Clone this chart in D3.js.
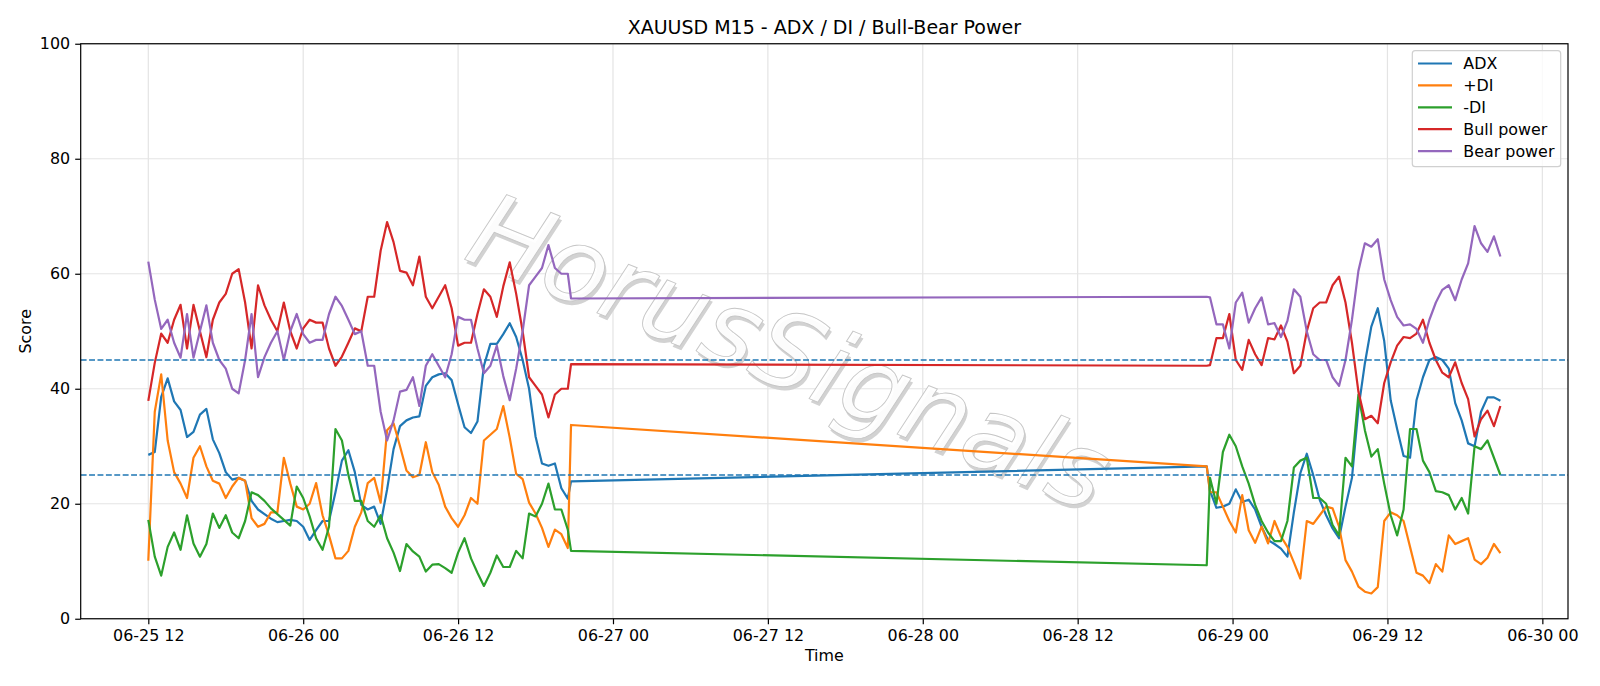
<!DOCTYPE html>
<html>
<head>
<meta charset="utf-8">
<script src="https://cdn.jsdelivr.net/npm/d3@7"></script>
<style>
  body { margin: 0; background: #fff; }
  svg { display: block; font-family: "DejaVu Sans", sans-serif; }
</style>
</head>
<body>
<svg id="chart" width="1600" height="686"></svg>
<script>
// bar times: 30 min samples of the M15 feed, plus the two odd bars around the weekend gap
const parse = d3.timeParse("%Y-%m-%d %H:%M");
const seg1Start = parse("2025-06-25 12:00");
const seg1Last = parse("2025-06-26 20:45");
const seg2First = parse("2025-06-28 22:00");
const seg2Start = parse("2025-06-28 22:15");

const times = [
    ...d3.range(66).map(i => d3.timeMinute.offset(seg1Start, 30 * i)),
    seg1Last,
    seg2First,
    ...d3.range(46).map(i => d3.timeMinute.offset(seg2Start, 30 * i))
];

// values, segment before the gap then after it
const adx1 = [28.5, 29, 38.6, 41.8, 37.8, 36.3, 31.6, 32.5, 35.5, 36.5,
    31.2, 28.8, 25.5, 24.2, 24.5, 24, 20.5, 19, 18.2, 17.4,
    16.8, 17, 17.2, 17, 16, 13.7, 15.4, 17, 17, 22,
    27.5, 29.3, 25.5, 19.8, 19, 19.5, 16.5, 22.5, 29.5, 33.5,
    34.5, 35, 35.2, 40.5, 42, 42.5, 42.7, 41.5, 37.3, 33.3,
    32.3, 34.3, 44, 47.8, 47.8, 49.5, 51.4, 49, 45, 40,
    31.7, 27, 26.6, 27, 22.7, 20.9, 23.9];
const adx2 = [26.5, 22.3, 19.3, 19.5, 20, 22.5, 20.3, 20.7, 19, 16,
    13.7, 13, 12.2, 10.8, 18.5, 25.3, 28.7, 25, 20.7, 18,
    15.7, 14, 19.5, 24.5, 36.5, 44.4, 50.8, 54, 48.3, 38,
    33, 28.3, 28, 38, 42, 45, 45.5, 45, 43.5, 37.5,
    34.5, 30.5, 30, 36, 38.5, 38.5, 37.9];

const plusDI1 = [10.1, 36, 42.5, 31, 25.5, 23.5, 21, 28, 30, 26.5,
    24, 23.5, 21, 23, 24.5, 24, 17.5, 16, 16.5, 18.5,
    18.5, 28, 23.5, 19.5, 19, 20, 23.6, 18, 14.5, 10.5,
    10.5, 11.8, 16, 18.5, 23.6, 24.5, 20.2, 32.8, 34, 30,
    25.8, 24.6, 25, 30.7, 25.5, 23.3, 19.5, 17.5, 16, 18,
    21, 20, 31, 32, 33, 37, 31.5, 25.2, 24.3, 20.2,
    18.3, 15.8, 12.5, 15.5, 14.7, 12.3, 33.7];
const plusDI2 = [26.5, 22, 22, 19.5, 17, 15, 21.5, 15.4, 13.2, 16,
    13.1, 17, 14.3, 12.5, 9.8, 7, 17, 16.5, 18, 19.5,
    19.2, 16, 10.2, 8.2, 5.6, 4.7, 4.4, 5.5, 17, 18.5,
    18, 17, 12.5, 8, 7.5, 6.2, 9.5, 8.2, 14.5, 13,
    13.5, 14, 10.3, 9.5, 10.6, 13, 11.4];

const minusDI1 = [17.2, 10.8, 7.5, 12.5, 15, 12, 18, 13.1, 10.8, 13,
    18.3, 15.8, 18, 15, 14, 17, 22, 21.5, 20.5, 19.2,
    18.2, 17.2, 16.2, 23, 21, 17.8, 14, 12, 16, 33,
    31, 25, 20.5, 20.5, 17, 16, 18, 14, 11.5, 8.3,
    13, 11.7, 10.8, 8.2, 9.4, 9.5, 8.8, 8, 11.5, 14,
    10.5, 8, 5.7, 8, 11, 9, 9, 11.8, 10.5, 18.3,
    17.8, 20, 23.5, 19, 19, 15.5, 11.8];
const minusDI2 = [9.3, 24.5, 20, 29, 32, 30, 26.5, 23.5, 19.8, 17,
    15, 13.5, 13.5, 17, 26.3, 27.5, 28, 21, 21, 20,
    16.3, 14.5, 28, 26.5, 39, 32.8, 28.2, 29.5, 23.5, 18,
    14.5, 19, 33, 33, 27.5, 25.5, 22.2, 22, 21.5, 19,
    21, 18.3, 30, 29.5, 31, 28, 25];

const bull1 = [37.9, 44.5, 49.6, 48, 52, 54.6, 47, 54.6, 50, 45.5,
    52, 55, 56.5, 60, 60.8, 55, 47, 58, 54.5, 52,
    50, 55, 50, 47, 50.5, 52, 51.5, 51.5, 47, 44,
    45.6, 48, 50.5, 50, 56, 56, 64, 69, 65.5, 60.5,
    60.2, 58, 63, 56, 54, 56, 58, 54, 47.5, 48,
    48, 53, 57.3, 56, 52.5, 57.8, 62, 56.5, 50, 42,
    40.5, 39, 35, 39, 40, 40, 44.3];
const bull2 = [44, 44.1, 48.8, 48.8, 53, 45, 43.3, 48.5, 46, 44.1,
    48.8, 48.6, 51, 48.2, 42.7, 44, 50, 54, 55, 55,
    58, 59.5, 55, 48, 39.5, 34.7, 35.3, 34, 41, 44.6,
    47.5, 49, 48.8, 49.6, 52, 48, 45, 42.8, 42, 44.6,
    41, 38.2, 31.7, 34.7, 36.2, 33.5, 37];

const bear1 = [62.1, 55.5, 50.4, 52, 48, 45.4, 53, 45.4, 50, 54.5,
    48, 45, 43.5, 40, 39.2, 45, 53, 42, 45.5, 48,
    50, 45, 50, 53, 49.5, 48, 48.5, 48.5, 53, 56,
    54.4, 52, 49.5, 50, 44, 44, 36, 31, 34.5, 39.5,
    39.8, 42, 37, 44, 46, 44, 42, 46, 52.5, 52,
    52, 47, 42.7, 44, 47.5, 42.2, 38, 43.5, 50, 58,
    59.5, 61, 65, 61, 60, 60, 55.7];
const bear2 = [56, 55.9, 51.2, 51.2, 47, 55, 56.7, 51.5, 54, 55.9,
    51.2, 51.4, 49, 51.8, 57.3, 56, 50, 46, 45, 45,
    42, 40.5, 45, 52, 60.5, 65.3, 64.7, 66, 59, 55.4,
    52.5, 51, 51.2, 50.4, 48, 52, 55, 57.2, 58, 55.4,
    59, 61.8, 68.3, 65.3, 63.8, 66.5, 63];

const seriesNames = ["ADX", "+DI", "-DI", "Bull power", "Bear power"];
const seriesColors = ["#1f77b4", "#ff7f0e", "#2ca02c", "#d62728", "#9467bd"];
const seriesValues = [
    adx1.concat(adx2),
    plusDI1.concat(plusDI2),
    minusDI1.concat(minusDI2),
    bull1.concat(bull2),
    bear1.concat(bear2)
];
const levels = [45, 25];
const yTicks = [0, 20, 40, 60, 80, 100];

const svg = d3.select("#chart");
const plotLeft = 80.7, plotRight = 1568, plotTop = 43.75, plotBottom = 618.75;

// matplotlib style 5% margin on the time axis
const t0 = times[0], t1 = times[times.length - 1];
const pad = (t1 - t0) * 0.05;
const x = d3.scaleTime()
    .domain([new Date(+t0 - pad), new Date(+t1 + pad)])
    .range([plotLeft, plotRight]);
const y = d3.scaleLinear().domain([0, 100]).range([plotBottom, plotTop]);

const xTicks = x.ticks(d3.timeHour.every(12));
const fmt = d3.timeFormat("%m-%d %H");

// grid
const grid = svg.append("g");
grid.selectAll(".gx").data(xTicks).enter().append("line")
    .attr("x1", d => x(d)).attr("x2", d => x(d))
    .attr("y1", plotTop).attr("y2", plotBottom)
    .attr("stroke", "#e4e4e4").attr("stroke-width", 1.2);
grid.selectAll(".gy").data(yTicks).enter().append("line")
    .attr("x1", plotLeft).attr("x2", plotRight)
    .attr("y1", d => y(d)).attr("y2", d => y(d))
    .attr("stroke", "#e4e4e4").attr("stroke-width", 1.2);

// watermark: grey shadow under a light outlined copy
const wm = svg.append("g")
    .attr("transform", "translate(790,352) rotate(22)");
wm.append("text")
    .attr("x", 3).attr("y", 3)
    .attr("text-anchor", "middle")
    .attr("dominant-baseline", "central")
    .style("font-size", "104px").style("font-style", "italic")
    .attr("fill", "#d2d2d2")
    .text("HorusSignals");
wm.append("text")
    .attr("text-anchor", "middle")
    .attr("dominant-baseline", "central")
    .style("font-size", "104px").style("font-style", "italic")
    .attr("fill", "#fff").attr("fill-opacity", 0.92)
    .attr("stroke", "#c6c6c6").attr("stroke-width", 0.9)
    .text("HorusSignals");

// series lines
const line = d3.line()
    .x((d, i) => x(times[i]))
    .y(d => y(d));
svg.append("g").selectAll("path").data(seriesValues).enter().append("path")
    .attr("d", line)
    .attr("fill", "none")
    .attr("stroke", (d, i) => seriesColors[i])
    .attr("stroke-width", 2.2)
    .attr("stroke-linejoin", "round");

// threshold lines
svg.append("g").selectAll("line").data(levels).enter().append("line")
    .attr("x1", plotLeft).attr("x2", plotRight)
    .attr("y1", d => y(d)).attr("y2", d => y(d))
    .attr("stroke", "#1f77b4").attr("stroke-width", 1.5)
    .attr("stroke-dasharray", "5.9,2.5");

// axes
const xAxis = svg.append("g")
    .attr("transform", `translate(0,${plotBottom})`)
    .call(d3.axisBottom(x).tickValues(xTicks).tickFormat(fmt).tickSize(5.5).tickPadding(5));
const yAxis = svg.append("g")
    .attr("transform", `translate(${plotLeft},0)`)
    .call(d3.axisLeft(y).tickValues(yTicks).tickSize(5.5).tickPadding(5));
[xAxis, yAxis].forEach(a => {
    a.select(".domain").remove();
    a.selectAll(".tick line").attr("stroke", "#000").attr("stroke-width", 1.2);
    a.selectAll("text").style("font-size", "15.9px").style("font-family", "DejaVu Sans").attr("fill", "#000");
});

// frame
svg.append("rect")
    .attr("x", plotLeft).attr("y", plotTop)
    .attr("width", plotRight - plotLeft).attr("height", plotBottom - plotTop)
    .attr("fill", "none").attr("stroke", "#000").attr("stroke-width", 1.2);

// labels
svg.append("text")
    .attr("x", (plotLeft + plotRight) / 2).attr("y", 34)
    .attr("text-anchor", "middle")
    .style("font-size", "19px")
    .text("XAUUSD M15 - ADX / DI / Bull-Bear Power");
svg.append("text")
    .attr("x", (plotLeft + plotRight) / 2).attr("y", 661)
    .attr("text-anchor", "middle")
    .style("font-size", "15.9px")
    .text("Time");
svg.append("text")
    .attr("transform", `translate(31,${(plotTop + plotBottom) / 2}) rotate(-90)`)
    .attr("text-anchor", "middle")
    .style("font-size", "15.9px")
    .text("Score");

// legend
const legend = svg.append("g");
legend.append("rect")
    .attr("x", 1412.3).attr("y", 50.7)
    .attr("width", 148.4).attr("height", 116)
    .attr("rx", 3).attr("fill", "#fff").attr("fill-opacity", 0.8)
    .attr("stroke", "#d0d0d0").attr("stroke-width", 1.2);
const rows = legend.selectAll(".row").data(seriesNames).enter().append("g")
    .attr("transform", (d, i) => `translate(0,${63.5 + i * 21.9})`);
rows.append("line")
    .attr("x1", 1418).attr("x2", 1452)
    .attr("stroke", (d, i) => seriesColors[i]).attr("stroke-width", 2.2);
rows.append("text")
    .attr("x", 1463.3).attr("y", 5.8)
    .style("font-size", "15.9px")
    .text(d => d);
</script>
</body>
</html>
